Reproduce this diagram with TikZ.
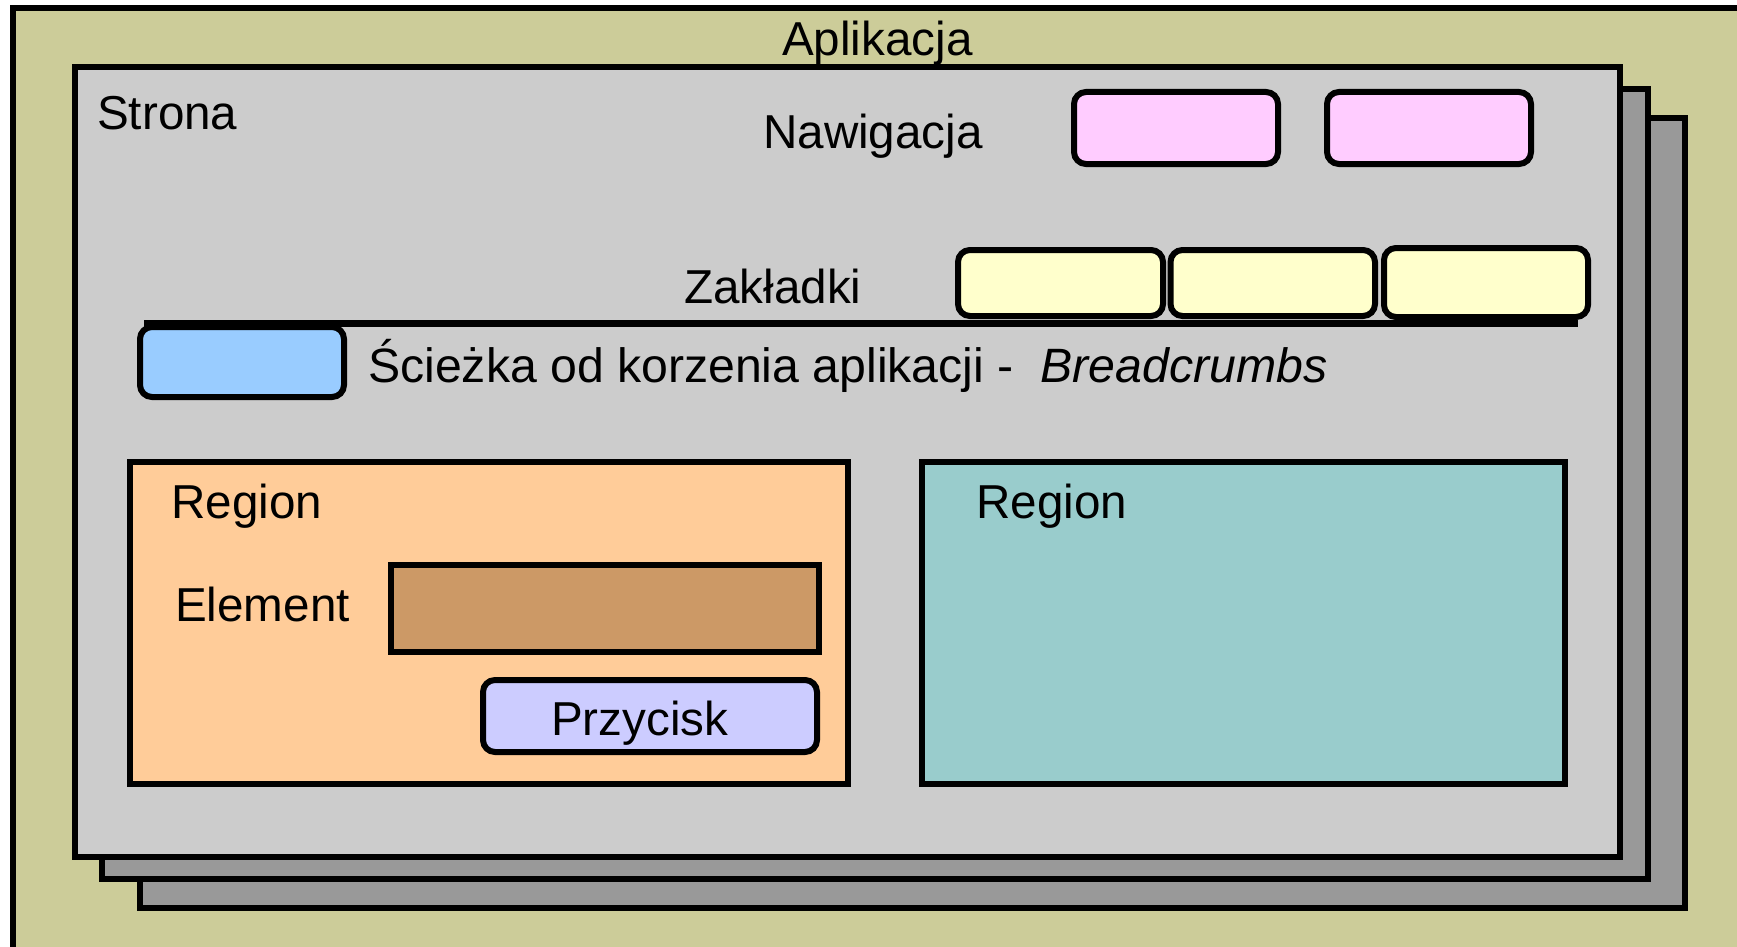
\documentclass[tikz,border=0pt]{standalone}
\usepackage{fontspec}
\setmainfont{Liberation Sans}
\definecolor{appc}{HTML}{CCCC99}
\definecolor{pagec}{HTML}{CCCCCC}
\definecolor{shadowc}{HTML}{999999}
\definecolor{navc}{HTML}{FFCCFF}
\definecolor{tabc}{HTML}{FFFFCC}
\definecolor{crumbc}{HTML}{99CCFF}
\definecolor{regac}{HTML}{FFCC99}
\definecolor{regbc}{HTML}{99CCCC}
\definecolor{elemc}{HTML}{CC9966}
\definecolor{btnc}{HTML}{CCCCFF}
\begin{document}
\begin{tikzpicture}[x=1pt,y=-1pt,
  frame/.style={draw=black,line width=6pt,line join=miter},
  soft/.style={frame,rounded corners=12pt},
  lbl/.style={inner sep=0pt,anchor=base west,font=\fontsize{47.6}{56}\selectfont}]
\useasboundingbox (0,0) rectangle (1737,947);
\clip (0,0) rectangle (1737,947);
\fill[white] (0,0) rectangle (1737,947);
% application
\path[frame,fill=appc] (13,8) coordinate (app1) rectangle (1770,980) coordinate (app2);
% pages
\path[frame,fill=shadowc] (140,118) coordinate (p3a) rectangle (1685,908) coordinate (p3b);
\path[frame,fill=shadowc] (102,89) coordinate (p2a) rectangle (1648,879) coordinate (p2b);
\path[frame,fill=pagec] (75,67) coordinate (p1a) rectangle (1620,857) coordinate (p1b);
% texts
\node[lbl] (aplikacja) at (782,56) {Aplikacja};
\node[lbl] (strona) at (97,130) {Strona};
\node[lbl] (nawigacja) at (763,149) {Nawigacja};
\node[lbl] (zakladki) at (684,303) {Zakładki};
% navigation buttons
\path[soft,fill=navc] (1074,92) coordinate (n1a) rectangle (1278,164) coordinate (n1b);
\path[soft,fill=navc] (1327,92) coordinate (n2a) rectangle (1531,164) coordinate (n2b);
% tab line
\coordinate (tl1) at (144,323.5);
\coordinate (tl2) at (1578,323.5);
\draw[line width=7pt] (tl1) -- (tl2);
% tabs
\path[soft,fill=tabc] (958,250) coordinate (t1a) rectangle (1163,316) coordinate (t1b);
\path[soft,fill=tabc] (1170.5,250) coordinate (t2a) rectangle (1375,316) coordinate (t2b);
\path[soft,fill=tabc] (1384,248) coordinate (t3a) rectangle (1588,317) coordinate (t3b);
% breadcrumbs
\path[soft,fill=crumbc] (140,327) coordinate (bca) rectangle (344,397) coordinate (bcb);
\node[lbl,font=\fontsize{48.2}{56}\selectfont] (sciezka) at (368,382) {Ścieżka od korzenia aplikacji -\ \ \textit{Breadcrumbs}};
% regions
\path[frame,fill=regac] (130,462) coordinate (ra1) rectangle (848,784) coordinate (ra2);
\path[frame,fill=regbc] (922,462) coordinate (rb1) rectangle (1565,784) coordinate (rb2);
\node[lbl] (regiona) at (171,518) {Region};
\node[lbl] (regionb) at (976,518) {Region};
\node[lbl] (element) at (175,621) {Element};
\path[frame,fill=elemc] (391,565) coordinate (ea) rectangle (819,652) coordinate (eb);
\path[soft,fill=btnc] (483,680) coordinate (ba) rectangle (817,752) coordinate (bb);
\node[lbl] (przycisk) at (551,735) {Przycisk};
\end{tikzpicture}
\end{document}
